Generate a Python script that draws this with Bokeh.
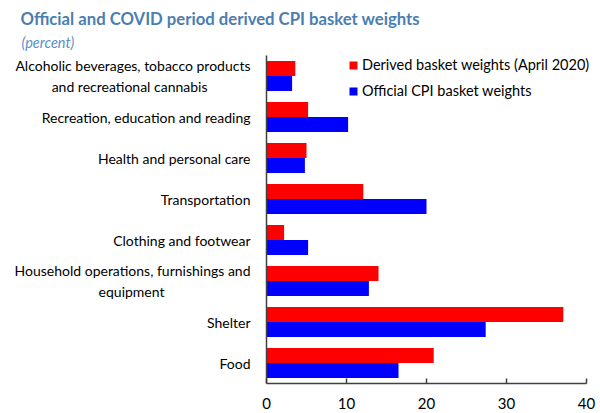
from bokeh.plotting import figure
from bokeh.models import FactorRange, Range1d, FixedTicker, Title, Legend, LegendItem, ColumnDataSource
from bokeh.transform import dodge
from bokeh.embed import file_html
from bokeh.resources import INLINE

NB = "\u00a0"
categories = [
    "Food",
    "Shelter",
    "Household operations, furnishings and\nequipment" + NB * 24,
    "Clothing and footwear",
    "Transportation",
    "Health and personal care",
    "Recreation, education and reading",
    "Alcoholic beverages, tobacco products\nand recreational cannabis" + NB * 12,
]
derived = [20.9, 37.1, 14.0, 2.2, 12.1, 5.0, 5.2, 3.6]
official = [16.5, 27.4, 12.8, 5.2, 20.0, 4.8, 10.2, 3.2]
x_ticks = [0, 10, 20, 30, 40]

FONT = "Lato"

src = ColumnDataSource(dict(cat=categories, derived=derived, official=official))

p = figure(
    width=600, height=413,
    y_range=FactorRange(*categories, range_padding=0),
    x_range=Range1d(0, 41.75),
    output_backend="svg", toolbar_location=None,
    min_border_left=266, min_border_right=0, min_border_top=55, min_border_bottom=30,
)
p.title.visible = False

r1 = p.hbar(y=dodge("cat", 0.183, range=p.y_range), right="derived", height=0.366,
            source=src, color="#FF0000", line_color=None)
r2 = p.hbar(y=dodge("cat", -0.183, range=p.y_range), right="official", height=0.366,
            source=src, color="#0000FF", line_color=None)

p.grid.visible = False
p.outline_line_color = None
p.background_fill_color = "white"

xa = p.xaxis[0]
xa.ticker = FixedTicker(ticks=x_ticks)
xa.bounds = (0, 40)
xa.axis_line_color = "#404040"
xa.axis_line_width = 1.5
xa.major_tick_in = 5
xa.major_tick_out = 0
xa.major_tick_line_color = "#404040"
xa.major_tick_line_width = 1.5
xa.minor_tick_line_color = None
xa.major_label_text_font = FONT
xa.major_label_text_font_size = "15px"
xa.major_label_text_color = "#000000"
xa.major_label_standoff = 14

ya = p.yaxis[0]
ya.axis_line_color = "#404040"
ya.axis_line_width = 1.5
ya.major_tick_line_color = None
ya.minor_tick_line_color = None
ya.major_label_text_font = FONT
ya.major_label_text_font_size = "14px"
ya.major_label_text_color = "#000000"
ya.major_label_standoff = 10

legend = Legend(items=[
    LegendItem(label="Derived basket weights (April 2020)", renderers=[r1]),
    LegendItem(label="Official CPI basket weights", renderers=[r2]),
], location=(82, 284))
legend.margin = 0
legend.padding = 0
legend.spacing = 9
legend.glyph_width = 10
legend.glyph_height = 10
legend.label_standoff = 4
legend.label_text_font = FONT
legend.label_text_font_size = "14.5px"
legend.label_text_color = "#000000"
legend.border_line_color = None
legend.background_fill_alpha = 0
p.add_layout(legend, "center")

p.add_layout(Title(text="(percent)", text_font=FONT, text_font_style="italic",
                   text_font_size="14.5px", text_color="#5B8FC9", align="left",
                   offset=-245, standoff=9), "above")
p.add_layout(Title(text="Official and COVID period derived CPI basket weights",
                   text_font=FONT, text_font_style="bold", text_font_size="16.7px",
                   text_color="#4A7EB0", align="left", offset=-246, standoff=-2), "above")

open("out.html", "w").write(file_html(p, INLINE))
